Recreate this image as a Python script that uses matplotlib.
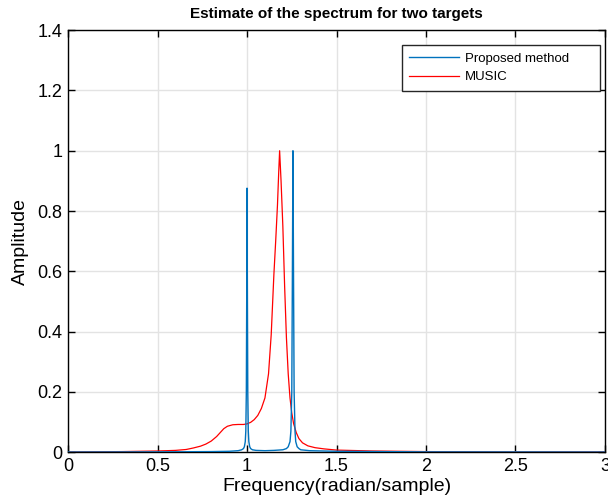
import matplotlib
matplotlib.use('Agg')
import matplotlib.pyplot as plt

plt.rcParams['font.family'] = ['Liberation Sans', 'DejaVu Sans']

# Proposed method (blue)
prop_x = [0.0, 0.5, 0.8, 0.9, 0.95, 0.97, 0.98, 0.985, 0.99, 0.993, 0.996, 0.998, 1.0,
          1.002, 1.004, 1.007, 1.01, 1.015, 1.02, 1.03, 1.05, 1.1, 1.15, 1.2, 1.22,
          1.23, 1.24, 1.245, 1.25, 1.253, 1.2565, 1.26, 1.263, 1.268, 1.272, 1.28,
          1.29, 1.3, 1.35, 1.5, 2.0, 3.0]
prop_y = [0.0005, 0.001, 0.002, 0.003, 0.005, 0.008, 0.012, 0.018, 0.035, 0.07, 0.2, 0.5, 0.876,
          0.5, 0.2, 0.07, 0.035, 0.018, 0.012, 0.008, 0.006, 0.005, 0.006, 0.008, 0.012,
          0.018, 0.035, 0.07, 0.2, 0.55, 1.0, 0.55, 0.2, 0.07, 0.035, 0.018,
          0.012, 0.008, 0.005, 0.003, 0.001, 0.0005]

# MUSIC (red)
music_x = [0.0, 0.3, 0.5, 0.6, 0.66, 0.70, 0.74, 0.77, 0.80, 0.83, 0.85, 0.87, 0.89, 0.92,
           0.95, 0.98, 1.00, 1.02, 1.04, 1.06, 1.08, 1.10, 1.12, 1.135, 1.15, 1.16, 1.17,
           1.177, 1.182, 1.19, 1.20, 1.21, 1.22, 1.23, 1.24, 1.25, 1.26, 1.275, 1.29,
           1.31, 1.34, 1.38, 1.43, 1.5, 1.7, 2.0, 2.5, 3.0]
music_y = [0.001, 0.002, 0.004, 0.006, 0.009, 0.014, 0.020, 0.027, 0.037, 0.052, 0.065, 0.078,
           0.086, 0.091, 0.092, 0.092, 0.094, 0.099, 0.108, 0.122, 0.145, 0.18, 0.26, 0.39,
           0.59, 0.70, 0.82, 0.93, 1.0, 0.90, 0.75, 0.55, 0.38, 0.26, 0.18, 0.13, 0.095,
           0.065, 0.045, 0.031, 0.021, 0.015, 0.011, 0.007, 0.004, 0.002, 0.001, 0.001]

fig = plt.figure(figsize=(6.08, 5.03), dpi=100)
ax = fig.add_axes([0.112, 0.101, 0.883, 0.839])

l1, = ax.plot(prop_x, prop_y, color='#0072BD', lw=1.0, zorder=3)
l2, = ax.plot(music_x, music_y, color='#FF0000', lw=0.9, zorder=2)

ax.set_xlim(0, 3)
ax.set_ylim(0, 1.4)
ax.set_xticks([0, 0.5, 1, 1.5, 2, 2.5, 3])
ax.set_xticklabels(['0', '0.5', '1', '1.5', '2', '2.5', '3'])
ax.set_yticks([0, 0.2, 0.4, 0.6, 0.8, 1, 1.2, 1.4])
ax.set_yticklabels(['0', '0.2', '0.4', '0.6', '0.8', '1', '1.2', '1.4'])
ax.tick_params(direction='in', top=True, right=True, length=5, width=1,
               labelsize=13, colors='black', pad=4)
ax.grid(True, color='#e3e3e3', lw=1)
ax.set_axisbelow(True)
for s in ax.spines.values():
    s.set_linewidth(1)
    s.set_color('black')

ax.set_title('Estimate of the spectrum for two targets', fontsize=11, fontweight='bold', pad=9)
ax.set_xlabel('Frequency(radian/sample)', fontsize=14, labelpad=2)
ax.set_ylabel('Amplitude', fontsize=14, labelpad=6)

# matlab-style legend box, wider than its text
leg = ax.legend([l1, l2], ['Proposed method', 'MUSIC'], loc='upper left',
                bbox_to_anchor=(0.622, 0.0, 0.369, 0.9645), mode='expand',
                borderaxespad=0, fontsize=9.5, handlelength=3.8,
                fancybox=False, framealpha=1, edgecolor='#262626',
                handletextpad=0.4, labelspacing=0.5, borderpad=0.55)
leg.get_frame().set_linewidth(1.0)

fig.savefig('out.png', dpi=100)
